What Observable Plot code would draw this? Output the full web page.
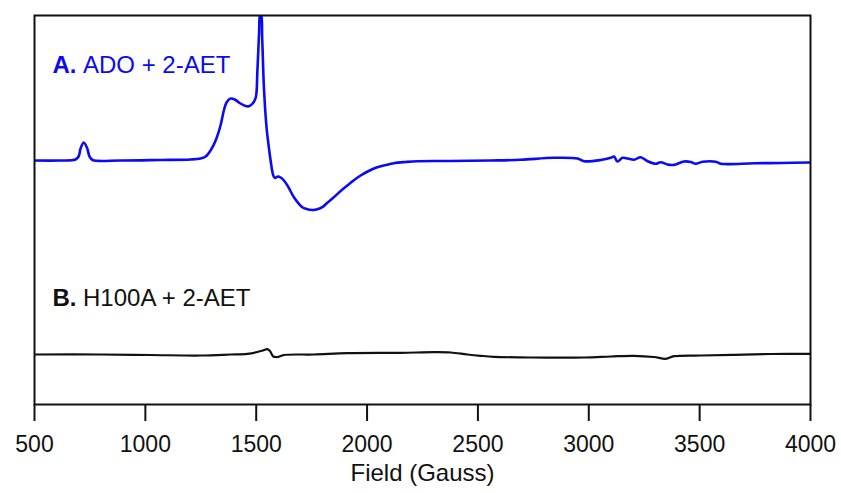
<!DOCTYPE html>
<html>
<head>
<meta charset="utf-8">
<script src="https://cdn.jsdelivr.net/npm/d3@7"></script>
<script src="https://cdn.jsdelivr.net/npm/@observablehq/plot@0.6"></script>
<style>
  html, body { margin: 0; padding: 0; background: #fff; }
  #chart svg { display: block; }
</style>
</head>
<body>
<div id="chart"></div>
<script>
// X axis ticks (Field, Gauss)
const xTicks = [500, 1000, 1500, 2000, 2500, 3000, 3500, 4000];
const xLabel = "Field (Gauss)";

// Spectrum A: ADO + 2-AET (derivative signal, arbitrary units, relative to its baseline)
const fieldA = [500, 617, 685, 699, 708, 722, 738, 748, 762, 888, 1069, 1204, 1249, 1272, 1294, 1317, 1339, 1354, 1366, 1384, 1407, 1429, 1452, 1467, 1484, 1498, 1505, 1513, 1518, 1522, 1527, 1535, 1547, 1556, 1565, 1577, 1585, 1598, 1610, 1625, 1646, 1670, 1708, 1727, 1753, 1772, 1798, 1822, 1850, 1881, 1911, 1939, 1971, 2007, 2046, 2084, 2121, 2174, 2227, 2377, 2558, 2693, 2843, 2949, 2979, 3054, 3099, 3114, 3129, 3152, 3176, 3204, 3234, 3265, 3302, 3324, 3355, 3379, 3392, 3430, 3460, 3482, 3513, 3573, 3595, 3746, 3866, 4000];
const signalA = [0, 0, 1, 4, 12, 18, 12, 4, 0.5, 0, 0.5, 1, 2, 4, 10, 20, 35, 50, 58, 62, 60.5, 57, 54.5, 54.3, 57, 63, 88, 128, 146, 146, 122, 72, 32, 15, 0, -15, -17.5, -16, -17, -20, -27, -36.7, -46.7, -48.5, -49.5, -49, -46.7, -42, -36.7, -30.5, -25, -20, -15, -10.5, -6.7, -4.5, -2.7, -1.5, -0.7, -0.5, 0, 0.7, 2.7, 2, -0.7, 0.5, 2.7, 4, -1, 2.7, 2, 0.7, 3.3, -0.7, -3.3, -1.7, -4, -4.5, -4, -1, -1.5, -3.3, -1.3, -1.3, -3.3, -2.7, -2.5, -2];
const offsetA = 244;

// Spectrum B: H100A + 2-AET
const fieldB = [500, 798, 1023, 1249, 1384, 1460, 1505, 1529, 1550, 1562, 1577, 1595, 1625, 1760, 1911, 2151, 2302, 2377, 2452, 2512, 2572, 2738, 2979, 3099, 3204, 3294, 3347, 3385, 3505, 3655, 3821, 4000];
const signalB = [0, 0, -0.5, -1, 0, 0.7, 2.5, 4, 5.3, 3.5, -2, -2.5, -0.5, 0, 1.3, 1.7, 2.3, 2, 0, -1.3, -2.3, -3, -3, -2, -1.3, -2.5, -4.3, -1.7, -1, -0.3, 0.5, 0.7];
const offsetB = 50;

const labelA = ["A.", "ADO + 2-AET"];
const labelB = ["B.", "H100A + 2-AET"];

const dataA = fieldA.map((f, i) => ({field: f, value: offsetA + signalA[i]}));
const dataB = fieldB.map((f, i) => ({field: f, value: offsetB + signalB[i]}));

const blue = "#0a0af5";
const font = "'Liberation Sans', Arial, sans-serif";

const chart = Plot.plot({
  width: 841,
  height: 493,
  marginLeft: 34,
  marginRight: 31,
  marginTop: 15,
  marginBottom: 89,
  style: {fontFamily: font, background: "#fff", color: "#111"},
  x: {domain: [500, 4000]},
  y: {domain: [0, 389], axis: null},
  marks: [
    Plot.line(dataB, {x: "field", y: "value", stroke: "#111", strokeWidth: 2.2, curve: "catmull-rom", clip: true}),
    Plot.line(dataA, {x: "field", y: "value", stroke: blue, strokeWidth: 2.6, curve: "catmull-rom", clip: true}),
    Plot.frame({stroke: "#111", strokeWidth: 2}),
    Plot.axisX({ticks: xTicks, tickFormat: d3.format("d"), tickSize: 17, tickPadding: 14, fontSize: 23, strokeWidth: 2, stroke: "#111", fill: "#111", label: null}),
    Plot.text([xLabel], {frameAnchor: "bottom", dy: 76, fontSize: 24, fill: "#111"}),
    Plot.text([labelA[0]], {frameAnchor: "top-left", dx: 18, dy: 40, fontSize: 24, fontWeight: "bold", fill: blue, textAnchor: "start"}),
    Plot.text([labelA[1]], {frameAnchor: "top-left", dx: 48.5, dy: 40, fontSize: 24, fill: blue, textAnchor: "start"}),
    Plot.text([labelB[0]], {frameAnchor: "top-left", dx: 18, dy: 273, fontSize: 24, fontWeight: "bold", fill: "#111", textAnchor: "start"}),
    Plot.text([labelB[1]], {frameAnchor: "top-left", dx: 48.5, dy: 273, fontSize: 24, fill: "#111", textAnchor: "start"})
  ]
});
document.getElementById("chart").appendChild(chart);
</script>
</body>
</html>
